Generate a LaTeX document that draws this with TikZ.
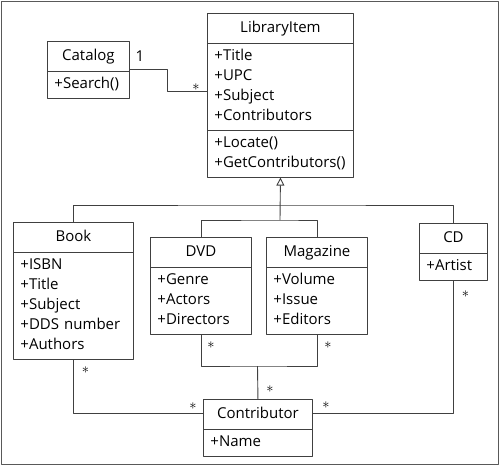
\documentclass[tikz,border=0pt]{standalone}
\usepackage{fontspec}
\setmainfont{Open Sans}
\usetikzlibrary{shapes.multipart,arrows.meta}

\tikzset{
	umlclass/.style={rectangle split, rectangle split parts=#1,
		draw=black!75, line width=0.9pt, anchor=north west,
		inner xsep=7pt, inner ysep=3pt, align=left},
	link/.style={draw=black!75, line width=0.9pt},
	mult/.style={inner sep=0pt}
}
\newcommand{\clshead}[1]{\noindent\hbox to\hsize{\hfil\rule[-7pt]{0pt}{23pt}#1\hfil}}

\begin{document}
\begin{tikzpicture}[x=1pt, y=-1pt,
			line join=round,
			font=\fontsize{15}{20}\selectfont
			]
			\useasboundingbox (0,0) rectangle (500,466);
			\draw[black!65, line width=1.5pt] (1.5,1.5) rectangle (498.5,464.5);
			
			% classes
			\node[umlclass=2, text width=68pt] (catalog) at (47,41)
			{\clshead{Catalog}
				\nodepart{two}\strut+Search()\strut};
			\node[umlclass=3, text width=132pt] (libitem) at (207,13)
			{\clshead{LibraryItem}
				\nodepart{two}\strut+Title\\+UPC\\+Subject\\+Contributors\strut
				\nodepart{three}\strut+Locate()\\+GetContributors()\strut};
			\node[umlclass=2, text width=106pt] (book) at (13,222)
			{\clshead{Book}
				\nodepart{two}\strut+ISBN\\+Title\\+Subject\\+DDS number\\+Authors\strut};
			\node[umlclass=2, text width=87pt] (dvd) at (150,237)
			{\clshead{DVD}
				\nodepart{two}\strut+Genre\\+Actors\\+Directors\strut};
			\node[umlclass=2, text width=87pt] (magazine) at (266,237)
			{\clshead{Magazine}
				\nodepart{two}\strut+Volume\\+Issue\\+Editors\strut};
			\node[umlclass=2, text width=54pt] (cd) at (419,223)
			{\clshead{CD}
				\nodepart{two}\strut+Artist\strut};
			\node[umlclass=2, text width=95pt] (contributor) at (203,399)
			{\clshead{Contributor}
				\nodepart{two}\strut+Name\strut};
			
			% catalog association
			\draw[link] (catalog.east) -- ++(38,0) |- ([yshift=4pt]libitem.west);
			\node[mult] (m-cat) at ([shift={(10,-14)}]catalog.east) {1};
			\node[mult] (m-item) at ([shift={(-11,-8)}]libitem.west) {$\ast$};
			
			% generalization
			\coordinate (bus1) at (280,205);
			\coordinate (bus2) at (280,220);
			\draw[link] (book.north) |- (bus1) -| (cd.north);
			\draw[link] (dvd.north) |- (bus2) -| (magazine.north);
			\draw[link, -{Triangle[open, length=8pt, width=8pt]}] (bus2) -- (libitem.south);
			
			% contributor associations
			\coordinate (join) at (257.5,366);
			\draw[link] (book.south) |- ([yshift=-14pt]contributor.north west);
			\draw[link] (cd.south) |- ([yshift=-14pt]contributor.north east);
			\draw[link] (dvd.south) |- (join) -| (magazine.south);
			\draw[link] (join) -- (contributor.north);
			
			\node[mult] (m-book) at ([shift={(12,10)}]book.south) {$\ast$};
			\node[mult] (m-dvd) at ([shift={(10,10)}]dvd.south) {$\ast$};
			\node[mult] (m-mag) at ([shift={(11,10)}]magazine.south) {$\ast$};
			\node[mult] (m-cd) at ([shift={(12,13)}]cd.south) {$\ast$};
			\node[mult] (m-con-l) at ([shift={(-10,7)}]contributor.north west) {$\ast$};
			\node[mult] (m-con-t) at ([shift={(12,-10)}]contributor.north) {$\ast$};
			\node[mult] (m-con-r) at ([shift={(13,6)}]contributor.north east) {$\ast$};
\end{tikzpicture}
\end{document}
